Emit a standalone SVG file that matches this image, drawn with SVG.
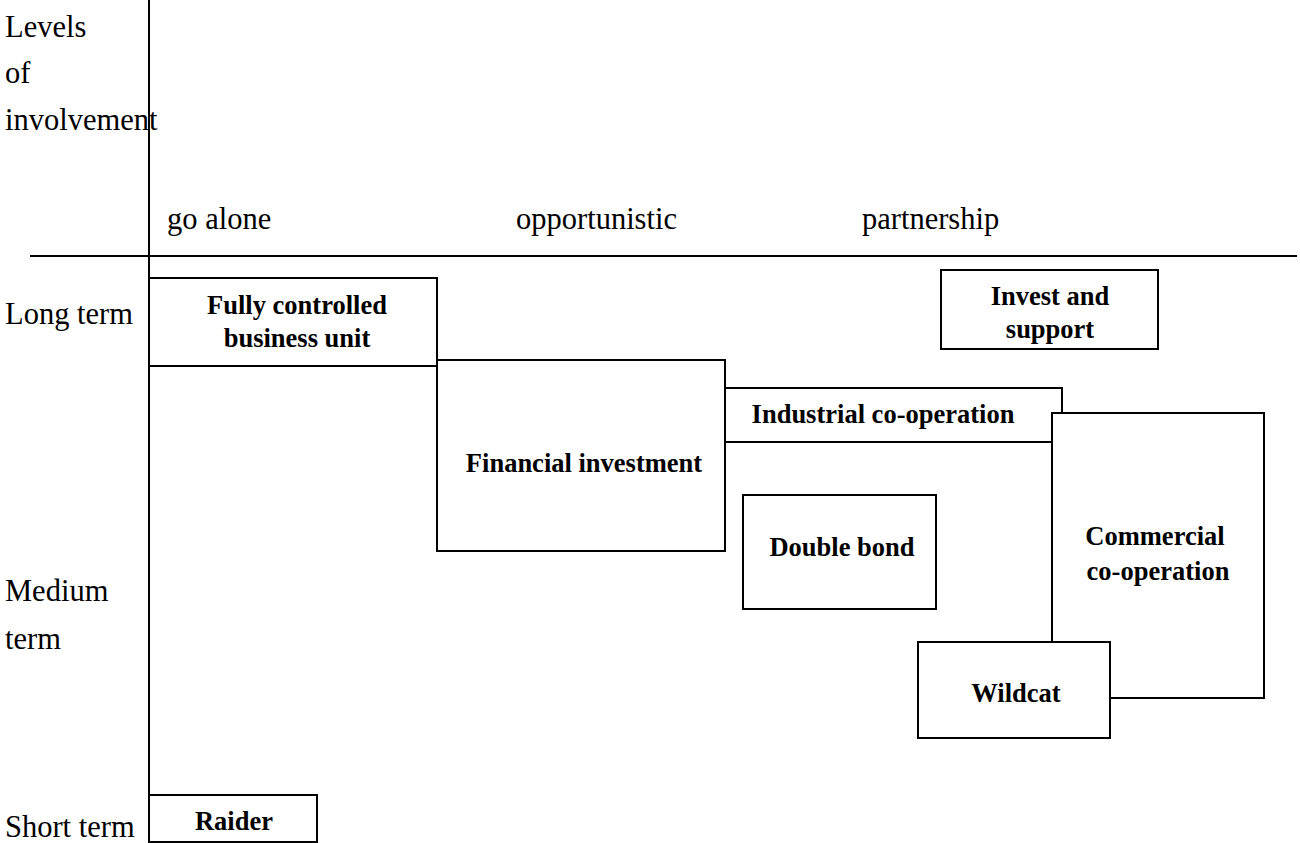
<svg xmlns="http://www.w3.org/2000/svg" width="1300" height="843" viewBox="0 0 1300 843">
<style>
.box{fill:#fff;stroke:#000;stroke-width:2}
.ax{stroke:#000;stroke-width:2;fill:none}
.lab{font-family:'Liberation Serif','Times New Roman','DejaVu Serif',serif;font-size:30.5px;fill:#000}
.b{font-family:'Liberation Serif','Times New Roman','DejaVu Serif',serif;font-size:26.5px;font-weight:bold;fill:#000;text-anchor:middle}
</style>
<rect width="1300" height="843" fill="#fff"/>
<g id="axes">
<line class="ax" x1="149" y1="0" x2="149" y2="843"/>
<line class="ax" x1="30" y1="256" x2="1297" y2="256"/>
</g>
<g id="labels">
<text class="lab" x="5" y="37">Levels</text>
<text class="lab" x="5" y="83">of</text>
<text class="lab" x="5" y="130">involvement</text>
<text class="lab" x="167" y="229">go alone</text>
<text class="lab" x="516" y="229">opportunistic</text>
<text class="lab" x="862" y="229">partnership</text>
<text class="lab" x="5" y="324">Long term</text>
<text class="lab" x="5" y="601">Medium</text>
<text class="lab" x="5" y="649">term</text>
<text class="lab" x="5" y="837">Short term</text>
</g>
<g id="connectors"></g>
<g id="fully">
<rect class="box" x="149" y="278" width="288" height="88"/>
<text class="b" x="297" y="314">Fully controlled</text>
<text class="b" x="297" y="347">business unit</text>
</g>
<g id="financial">
<rect class="box" x="437" y="360" width="288" height="191"/>
<text class="b" x="584" y="472">Financial investment</text>
</g>
<g id="industrial">
<rect class="box" x="725" y="388" width="337" height="54"/>
<text class="b" x="883" y="423">Industrial co-operation</text>
</g>
<g id="commercial">
<rect class="box" x="1052" y="413" width="212" height="285"/>
<text class="b" x="1155" y="545">Commercial</text>
<text class="b" x="1158" y="580">co-operation</text>
</g>
<g id="invest">
<rect class="box" x="941" y="270" width="217" height="79"/>
<text class="b" x="1050" y="305">Invest and</text>
<text class="b" x="1050" y="338">support</text>
</g>
<g id="doublebond">
<rect class="box" x="743" y="495" width="193" height="114"/>
<text class="b" x="842" y="556">Double bond</text>
</g>
<g id="wildcat">
<rect class="box" x="918" y="642" width="192" height="96"/>
<text class="b" x="1016" y="702">Wildcat</text>
</g>
<g id="raider">
<rect class="box" x="149" y="795" width="168" height="47"/>
<text class="b" x="234" y="830">Raider</text>
</g>
</svg>
